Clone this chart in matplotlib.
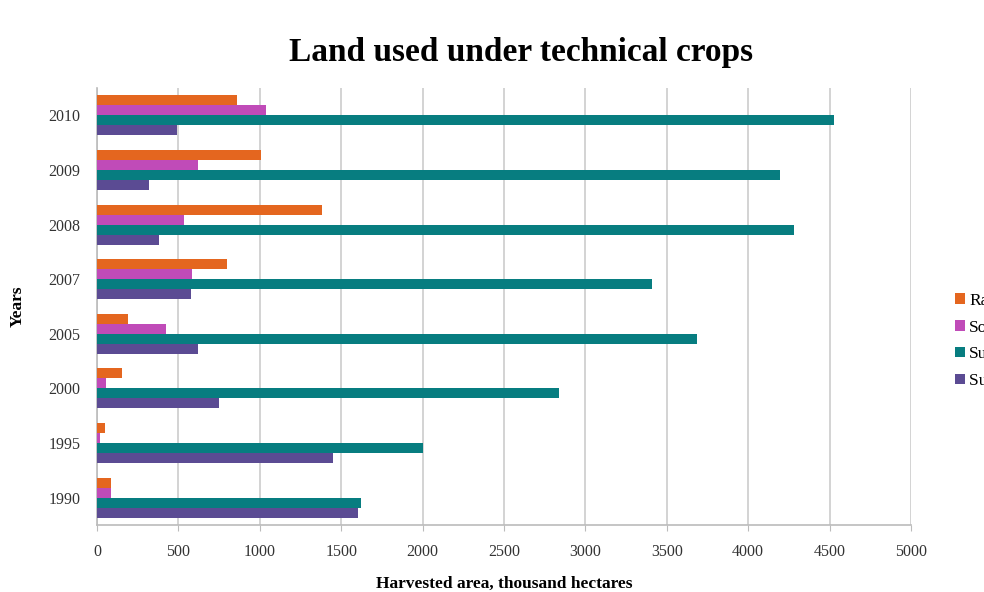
import numpy as np
import matplotlib
matplotlib.use("Agg")
import matplotlib.pyplot as plt

years = ["1990", "1995", "2000", "2005", "2007", "2008", "2009", "2010"]
rapeseed = [86, 49, 156, 191, 796, 1382, 1010, 862]
soybean = [86, 18, 55, 424, 584, 535, 620, 1035]
sunflower = [1622, 2005, 2839, 3686, 3409, 4281, 4195, 4527]
sugar_beet = [1605, 1450, 749, 622, 580, 381, 320, 490]

series_names = ["Rapeseed", "Soybean", "Sunflower", "Sugar beet"]
colors = ["#E4661F", "#C04BB8", "#077D80", "#5B4B93"]

plt.rcParams['font.family'] = ['Liberation Serif', 'DejaVu Serif']

fig = plt.figure(figsize=(9.84, 5.92), dpi=100)
ax = fig.add_axes([0.0986, 0.1132, 0.8272, 0.7382])

y = np.arange(len(years))
h = 0.183
all_series = [rapeseed, soybean, sunflower, sugar_beet]
for k, (vals, name, col) in enumerate(zip(all_series, series_names, colors)):
    ax.barh(y + (1.5 - k) * h, vals, height=h, color=col, label=name, zorder=3)

ax.set_xlim(0, 5000)
ax.set_ylim(-0.5, len(years) - 0.5)
ax.set_xticks(np.arange(0, 5001, 500))
ax.set_yticks(y)
ax.set_yticklabels(years)
ax.tick_params(axis='x', length=4, color='#BBBBBB', labelsize=11.5, pad=10, labelcolor='#333333')
ax.tick_params(axis='y', length=0, labelsize=11.5, pad=12, labelcolor='#333333')
ax.grid(axis='x', color='#CCCCCC', linewidth=1.2, zorder=0)
for s in ['top', 'right']:
    ax.spines[s].set_visible(False)
for s in ['left', 'bottom']:
    ax.spines[s].set_color('#BBBBBB')
    ax.spines[s].set_linewidth(1.2)

ax.set_xlabel("Harvested area, thousand hectares", fontsize=12.5, fontweight='bold', labelpad=11)
ax.set_ylabel("Years", fontsize=12.5, fontweight='bold', labelpad=16)
fig.text(0.53, 0.912, "Land used under technical crops", fontsize=24, fontweight='bold', ha='center', va='center')

handles, labels = ax.get_legend_handles_labels()
fig.legend(handles, labels, loc='center left', bbox_to_anchor=(0.955, 0.424), frameon=False,
           fontsize=12.5, handlelength=0.55, handleheight=0.55, handletextpad=0.25, labelspacing=0.62)

fig.savefig("out.png", dpi=100)
